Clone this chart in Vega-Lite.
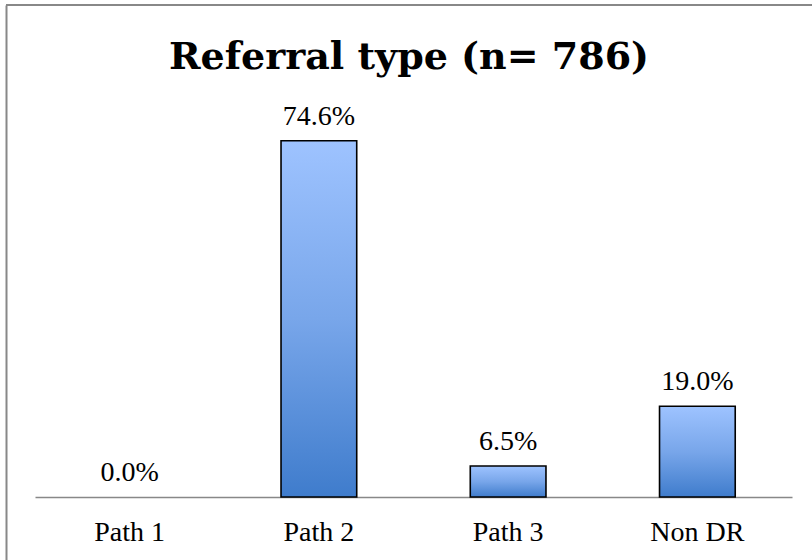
{
  "$schema": "https://vega.github.io/schema/vega-lite/v6.json",
  "width": 806,
  "height": 555,
  "autosize": {"type": "none"},
  "padding": {"left": 6, "top": 5, "right": 0, "bottom": 0},
  "background": "white",
  "config": {"view": {"stroke": null}},
  "title": {
    "text": "Referral type (n= 786)",
    "font": "DejaVu Serif",
    "fontWeight": "bold",
    "fontSize": 38,
    "color": "black",
    "anchor": "middle",
    "frame": "group",
    "baseline": "alphabetic",
    "offset": -103
  },
  "layer": [
    {
      "data": {"values": [
        {"path": "Path 1", "share": 0.0},
        {"path": "Path 2", "share": 0.746},
        {"path": "Path 3", "share": 0.065},
        {"path": "Non DR", "share": 0.19}
      ]},
      "transform": [{"filter": "datum.share > 0"}],
      "mark": {
        "type": "bar",
        "stroke": "black",
        "strokeWidth": 1.6,
        "color": {
          "gradient": "linear",
          "x1": 0, "y1": 0, "x2": 0, "y2": 1,
          "stops": [
            {"offset": 0, "color": "#9EC3FF"},
            {"offset": 0.5, "color": "#78A6EA"},
            {"offset": 1, "color": "#3F7CCC"}
          ]
        }
      },
      "encoding": {
        "x": {
          "field": "path", "type": "nominal", "sort": ["Path 1", "Path 2", "Path 3", "Non DR"],
          "scale": {"domain": ["Path 1", "Path 2", "Path 3", "Non DR"], "range": [29, 786], "paddingInner": 0.6, "paddingOuter": 0.3},
          "axis": {
            "title": null, "orient": "bottom", "offset": -63,
            "domainColor": "#888888", "domainWidth": 1.5,
            "ticks": false, "tickSize": 0, "grid": false,
            "labelFont": "Liberation Serif", "labelFontSize": 28, "labelColor": "black",
            "labelBaseline": "alphabetic", "labelPadding": 43, "labelAngle": 0
          }
        },
        "y": {
          "field": "share", "type": "quantitative",
          "scale": {"domain": [-0.1319, 1.0304], "nice": false, "zero": false},
          "axis": {"title": null, "labels": false, "ticks": false, "grid": false, "domainColor": "#888888", "domainWidth": 2}
        },
        "y2": {"datum": 0}
      }
    },
    {
      "data": {"values": [
        {"path": "Path 1", "share": 0.0},
        {"path": "Path 2", "share": 0.746},
        {"path": "Path 3", "share": 0.065},
        {"path": "Non DR", "share": 0.19}
      ]},
      "mark": {"type": "text", "baseline": "alphabetic", "dy": -16, "font": "Liberation Serif", "fontSize": 28, "color": "black"},
      "encoding": {
        "x": {"field": "path", "type": "nominal", "sort": ["Path 1", "Path 2", "Path 3", "Non DR"]},
        "y": {"field": "share", "type": "quantitative"},
        "text": {"field": "share", "type": "quantitative", "format": ".1%"}
      }
    },
    {
      "data": {"values": [{"top": 1.0304}]},
      "mark": {"type": "rule", "color": "#888888", "strokeWidth": 2},
      "encoding": {
        "y": {"field": "top", "type": "quantitative"}
      }
    }
  ]
}
